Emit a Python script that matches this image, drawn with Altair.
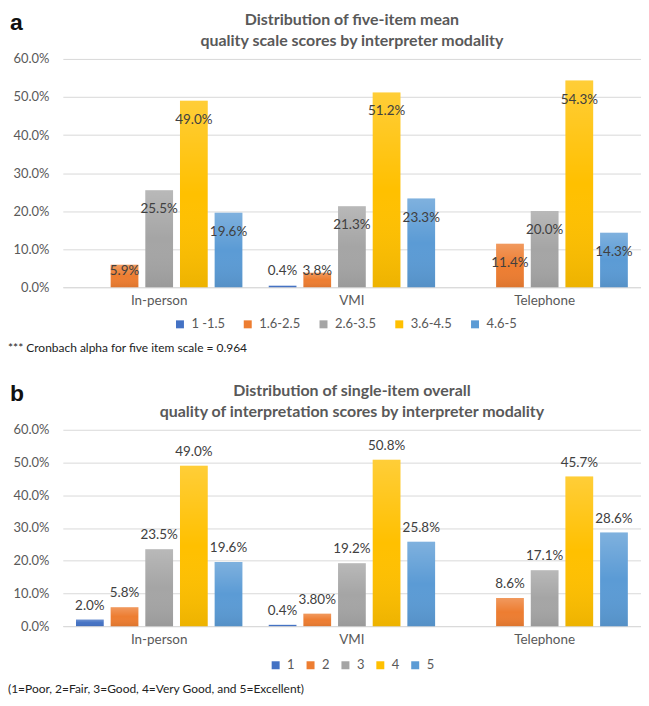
import altair as alt
import pandas as pd

# ---------------- data ----------------
categories = ["In-person", "VMI", "Telephone"]

a_series = ["1 -1.5", "1.6-2.5", "2.6-3.5", "3.6-4.5", "4.6-5"]
a_inperson = [None, 5.9, 25.5, 49.0, 19.6]
a_vmi = [0.4, 3.8, 21.3, 51.2, 23.3]
a_telephone = [None, 11.4, 20.0, 54.3, 14.3]

b_series = ["1", "2", "3", "4", "5"]
b_inperson = [2.0, 5.8, 23.5, 49.0, 19.6]
b_vmi = [0.4, 3.8, 19.2, 50.8, 25.8]
b_telephone = [None, 8.6, 17.1, 45.7, 28.6]
b_inperson_labels = ["2.0%", "5.8%", "23.5%", "49.0%", "19.6%"]
b_vmi_labels = ["0.4%", "3.80%", "19.2%", "50.8%", "25.8%"]
b_telephone_labels = [None, "8.6%", "17.1%", "45.7%", "28.6%"]

colors = ["#4472C4", "#ED7D31", "#A5A5A5", "#FFC000", "#5B9BD5"]
y_ticks = [0, 10, 20, 30, 40, 50, 60]

title_a = ["Distribution of five-item mean",
           "quality scale scores by interpreter modality"]
title_b = ["Distribution of single-item overall",
           "quality of interpretation scores by interpreter modality"]
note_a = "*** Cronbach alpha for five item scale = 0.964"
note_b = "(1=Poor, 2=Fair, 3=Good, 4=Very Good, and 5=Excellent)"


def build_df(series, rows, labels=None):
    recs = []
    for ci, cat in enumerate(categories):
        for si, s in enumerate(series):
            v = rows[ci][si]
            if v is None:
                continue
            lab = labels[ci][si] if labels else f"{v:.1f}%"
            recs.append({"cat": cat, "series": s, "value": v, "label": lab})
    return pd.DataFrame(recs)


df_a = build_df(a_series, [a_inperson, a_vmi, a_telephone])
df_b = build_df(b_series, [b_inperson, b_vmi, b_telephone],
                [b_inperson_labels, b_vmi_labels, b_telephone_labels])

FONT = "Lato"
GRAY = "#595959"
W = 580


def y_axis():
    return alt.Axis(title=None, values=y_ticks, tickCount=7,
                    domain=False, ticks=False, labelPadding=14,
                    labelOverlap=False,
                    labelExpr="format(datum.value, '.1f') + '%'",
                    labelFontSize=13, labelColor=GRAY, labelFont=FONT,
                    gridColor="#d9d9d9")


def panel(df, series, height, title_lines, letter, note, leg_x, leg_y,
          col_pad, note_y, label_mode):
    x = alt.X("cat:N", sort=categories,
              scale=alt.Scale(paddingInner=0, paddingOuter=0),
              axis=alt.Axis(title=None, labelAngle=0, ticks=False,
                            domainColor="#d9d9d9", labelFontSize=13.5,
                            labelColor=GRAY, labelFont=FONT, labelPadding=6))
    xo = alt.XOffset("series:N", sort=series,
                     scale=alt.Scale(domain=series, paddingInner=0.2,
                                     paddingOuter=0.38))
    yscale = alt.Scale(domain=[0, 60])
    y = alt.Y("value:Q", scale=yscale, axis=y_axis())
    base = alt.Chart(df)
    bars = base.mark_bar().encode(
        x=x, xOffset=xo, y=y,
        color=alt.Color("series:N", sort=series,
                        scale=alt.Scale(domain=series, range=colors),
                        legend=alt.Legend(
                            title=None, orient="none", direction="horizontal",
                            legendX=leg_x, legendY=leg_y, symbolType="square",
                            symbolSize=64, symbolStrokeWidth=0,
                            labelFontSize=13, labelFont=FONT, labelColor=GRAY,
                            labelOffset=5, columnPadding=col_pad, padding=0)))
    shade = base.mark_bar(color=alt.Gradient(
        gradient="linear", x1=0, x2=0, y1=0, y2=1,
        stops=[alt.GradientStop(color="rgba(255,255,255,0.22)", offset=0),
               alt.GradientStop(color="rgba(255,255,255,0.0)", offset=0.5),
               alt.GradientStop(color="rgba(0,0,0,0.07)", offset=1)])
    ).encode(x=x, xOffset=xo, y=y)
    if label_mode == "inside":
        texts = base.transform_calculate(
            ly="max(datum.value - 5, 4.3)"
        ).mark_text(font=FONT, fontSize=13.5, color="#404040",
                    baseline="middle").encode(
            x=x, xOffset=xo, y=alt.Y("ly:Q", scale=yscale, axis=y_axis()),
            text="label:N")
    else:
        texts = base.mark_text(font=FONT, fontSize=13.5, color="#404040",
                               baseline="middle", dy=-14).encode(
            x=x, xOffset=xo, y=y, text="label:N")

    dummy = alt.Chart(pd.DataFrame({"k": [0]}))
    ttl = dummy.mark_text(text=title_lines, font=FONT, fontSize=16,
                          fontWeight="bold", color=GRAY, align="center",
                          baseline="top", lineHeight=21).encode(
        x=alt.value(W / 2), y=alt.value(-47))
    let = dummy.mark_text(text=letter, font="Liberation Sans", fontSize=23,
                          fontWeight="bold", color="#111111", align="left",
                          baseline="middle").encode(
        x=alt.value(-53), y=alt.value(-36))
    nt = dummy.mark_text(text=note, font=FONT, fontSize=12, color="#222222",
                         align="left", baseline="middle").encode(
        x=alt.value(-55), y=alt.value(note_y))
    return alt.layer(bars, shade, texts, ttl, let, nt).properties(
        width=W, height=height)


pa = panel(df_a, a_series, 229, title_a, "a", note_a, 111, 259.5, 16, 290,
           "inside")
pb = panel(df_b, b_series, 197, title_b, "b", note_b, 207, 229.5, 9, 260,
           "outside")

chart = alt.vconcat(pa, pb, spacing=29).resolve_scale(
    x="independent", y="independent", color="independent",
    xOffset="independent").resolve_legend(color="independent").properties(
    padding={"top": 3, "left": 0, "right": 0, "bottom": 0}
).configure_view(stroke=None)

chart.save("out.html", embed_options={"renderer": "svg", "actions": False})
